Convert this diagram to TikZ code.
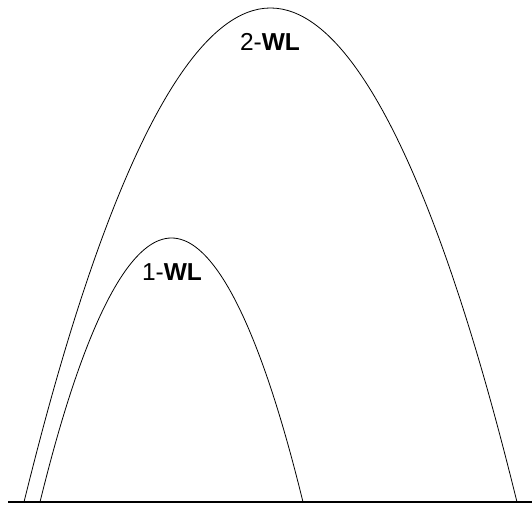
\documentclass[tikz,border=0pt]{standalone}
\usepackage{fontspec}
\setmainfont{Liberation Sans}
\begin{document}
\begin{tikzpicture}[x=1pt,y=1pt,
  arc/.style={draw=black, line width=0.8pt},
  ground/.style={draw=black, line width=2.8pt},
  lab/.style={font=\fontsize{24.5}{28}\selectfont, inner sep=0pt, anchor=center}]
\useasboundingbox (0,0) rectangle (532,505);
\coordinate (gl) at (8,3);
\coordinate (gr) at (532,3);
\coordinate (bl) at (24,3);
\coordinate (btop) at (270.5,497);
\coordinate (br) at (517,3);
\coordinate (sl) at (40,3);
\coordinate (stop) at (171.5,267);
\coordinate (sr) at (303,3);
\draw[arc] (bl) parabola bend (btop) (br);
\draw[arc] (sl) parabola bend (stop) (sr);
\draw[ground] (gl) -- (gr);
\node[lab] (twowl) at (270,463.5) {2-\textbf{WL}};
\node[lab] (onewl) at (172,232.5) {1-\textbf{WL}};
\end{tikzpicture}
\end{document}
